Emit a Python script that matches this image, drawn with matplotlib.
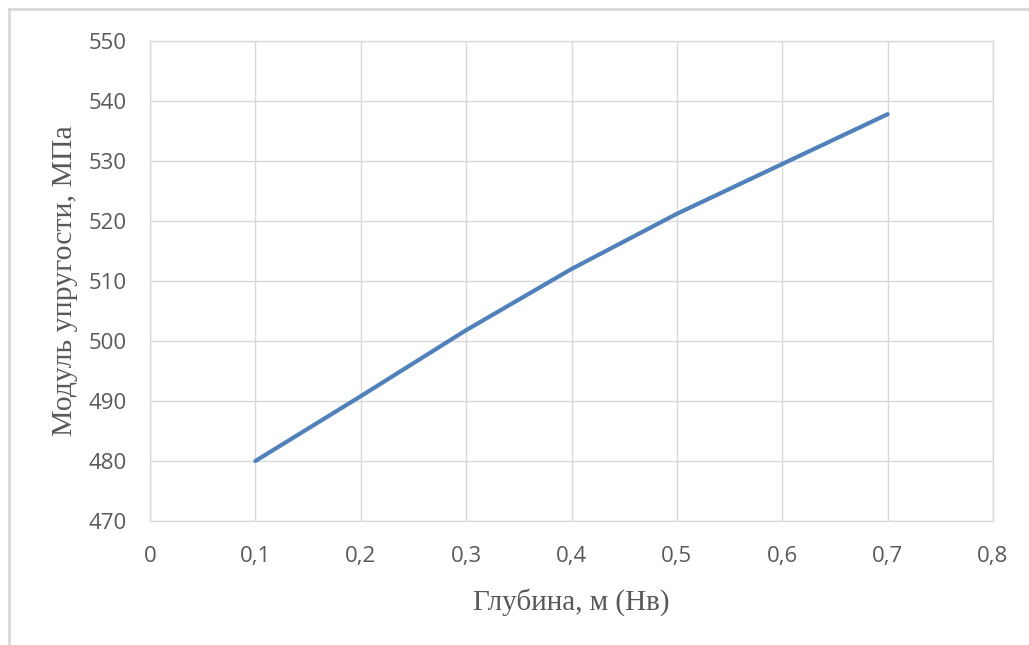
import matplotlib
matplotlib.use("Agg")
import matplotlib.pyplot as plt
from matplotlib.lines import Line2D

depth = [0.1, 0.2, 0.3, 0.4, 0.5, 0.6, 0.7]
modulus = [480.0, 490.8, 501.8, 512.0, 521.2, 529.5, 537.8]

x_ticks = [0, 0.1, 0.2, 0.3, 0.4, 0.5, 0.6, 0.7, 0.8]
x_tick_labels = ["0", "0,1", "0,2", "0,3", "0,4", "0,5", "0,6", "0,7", "0,8"]
y_ticks = [470, 480, 490, 500, 510, 520, 530, 540, 550]

grid_color = "#d9d9d9"
text_color = "#595959"

fig = plt.figure(figsize=(10.29, 6.45), dpi=100)
ax = fig.add_axes([150 / 1029, 1 - 521 / 645, 843 / 1029, 480 / 645])

ax.plot(depth, modulus, color="#4f81bd", linewidth=3.0, solid_capstyle="round")

ax.set_xlim(0, 0.8)
ax.set_ylim(470, 550)
ax.set_xticks(x_ticks)
ax.set_xticklabels(x_tick_labels)
ax.set_yticks(y_ticks)
ax.grid(True, color=grid_color, linewidth=1.0)
ax.set_axisbelow(True)
for s in ax.spines.values():
    s.set_color(grid_color)
    s.set_linewidth(1.0)
ax.tick_params(length=0, labelsize=16, labelcolor=text_color)
ax.tick_params(axis="x", pad=18)
ax.tick_params(axis="y", pad=17)
for lbl in ax.get_xticklabels() + ax.get_yticklabels():
    lbl.set_fontfamily("Open Sans")

ax.set_xlabel("Глубина, м (Нв)", family="Liberation Serif", fontsize=21,
              color=text_color)
ax.set_ylabel("Модуль упругости, МПа", family="Liberation Serif", fontsize=21.5,
              color=text_color)
ax.xaxis.set_label_coords(0.5, -0.14)
ax.yaxis.set_label_coords(-0.085, 0.5)

# outer chart frame (top and left edges)
fig.add_artist(Line2D([9 / 1029, 1], [1 - 9 / 645] * 2, color="#d9d9d9",
                      linewidth=2, transform=fig.transFigure))
fig.add_artist(Line2D([9 / 1029] * 2, [0, 1 - 9 / 645], color="#d9d9d9",
                      linewidth=2, transform=fig.transFigure))

fig.savefig("out.png", dpi=100)
